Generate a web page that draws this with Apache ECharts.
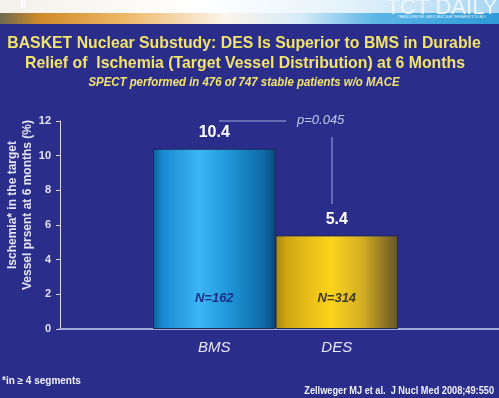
<!DOCTYPE html>
<html lang="en">
<head>
    <meta charset="utf-8">
    <title>BASKET Nuclear Substudy</title>
    <script src="https://cdn.jsdelivr.net/npm/echarts@6/dist/echarts.min.js"></script>
    <style>
        html, body {margin: 0; padding: 0; background: #2b2d8b;}
        #main {width: 499px; height: 398px;}
    </style>
</head>
<body>
<div id="main"></div>
<script type="text/javascript">
    // 数据
    var categories = ['BMS', 'DES'];
    var ischemia = [10.4, 5.4];
    var counts = ['N=162', 'N=314'];
    var yTicks = [0, 2, 4, 6, 8, 10, 12];

    var myChart = echarts.init(document.getElementById('main'));

    var font = '"Liberation Sans", Arial, sans-serif';
    var yellow = '#f1e36c';

    function barGradient(stops) {
        return new echarts.graphic.LinearGradient(0, 0, 1, 0, stops.map(function (s) {
            return {offset: s[0], color: s[1]};
        }));
    }
    var bmsFill = barGradient([[0, '#0b5f96'], [0.08, '#1a8ad0'], [0.38, '#3cb6f4'], [0.62, '#1f96d8'], [0.9, '#0e6aa6'], [1, '#094a7c']]);
    var desFill = barGradient([[0, '#a8860e'], [0.1, '#d4a812'], [0.45, '#fcd41c'], [0.7, '#d6b024'], [0.9, '#8c7224'], [1, '#62552a']]);
    var fills = [bmsFill, desFill];
    var countColors = ['#1d2f86', '#403a30'];

    var option = {
        animation: false,
        backgroundColor: '#2b2d8b',
        textStyle: {fontFamily: font},
        grid: [
            // 整个坐标区（y轴和延长的x轴线）
            {left: 60, right: 0, top: 121, bottom: 69, outerBoundsMode: 'none'},
            // 柱子所在区域
            {left: 153, right: 101, top: 121, bottom: 69, outerBoundsMode: 'none'}
        ],
        xAxis: [
            {
                gridIndex: 0, type: 'value', min: 0, max: 1,
                axisLine: {show: true, onZero: false, lineStyle: {color: '#a4aad8', width: 2}},
                axisTick: {show: false}, axisLabel: {show: false}, splitLine: {show: false}
            },
            {
                gridIndex: 1, type: 'category', data: categories,
                axisLine: {show: false}, axisTick: {show: false},
                axisLabel: {color: '#e8e8f4', fontSize: 15, fontStyle: 'italic', margin: 11}
            }
        ],
        yAxis: [
            {
                gridIndex: 0, type: 'value', min: 0, max: 12, interval: 2,
                name: 'Ischemia* in the target\nVessel prsent at 6 months (%)',
                nameLocation: 'middle', nameRotate: 90, nameGap: 25, nameMoveOverlap: false,
                nameTextStyle: {color: '#e4e4f0', fontSize: 12, fontWeight: 'bold', lineHeight: 15,
                    padding: [0, 0, 0, 40]},
                axisLine: {show: true, lineStyle: {color: '#d8d8e8', width: 1}},
                axisTick: {show: true, length: 4, lineStyle: {color: '#d8d8e8'}},
                axisLabel: {color: '#e4e4f0', fontSize: 11, fontWeight: 'bold', margin: 9,
                    formatter: function (v) { return yTicks.indexOf(v) >= 0 ? v : ''; }},
                splitLine: {show: false}
            },
            {
                gridIndex: 1, type: 'value', min: 0, max: 12, show: false
            }
        ],
        series: [
            {
                type: 'bar', xAxisIndex: 1, yAxisIndex: 1,
                barCategoryGap: '0%', barGap: '-100%',
                data: ischemia.map(function (v, i) {
                    return {value: v, itemStyle: {color: fills[i]}};
                }),
                itemStyle: {borderColor: '#1c2a5a', borderWidth: 1},
                label: {show: true, position: 'top', distance: 8, color: '#ffffff',
                    fontSize: 16, fontWeight: 'bold'}
            },
            {
                type: 'bar', xAxisIndex: 1, yAxisIndex: 1,
                barCategoryGap: '0%', barGap: '-100%',
                data: ischemia.map(function (v, i) {
                    return {value: v, label: {formatter: counts[i], color: countColors[i]}};
                }),
                itemStyle: {color: 'rgba(0,0,0,0)'},
                label: {show: true, position: 'insideBottom', distance: 24,
                    fontSize: 13, fontWeight: 'bold', fontStyle: 'italic'},
                silent: true
            }
        ],
        graphic: [
            // 顶部横幅
            {type: 'rect', shape: {x: 0, y: 0, width: 499, height: 24},
                style: {fill: new echarts.graphic.LinearGradient(0, 0, 1, 0, [
                    {offset: 0, color: '#f4f1ea'}, {offset: 0.4, color: '#ffffff'},
                    {offset: 0.7, color: '#e4f2fb'}, {offset: 1, color: '#a8d6f2'}])}},
            {type: 'rect', shape: {x: 0, y: 13, width: 499, height: 11},
                style: {fill: new echarts.graphic.LinearGradient(0, 0, 1, 0, [
                    {offset: 0, color: '#6c6a50'}, {offset: 0.08, color: '#d08a2a'},
                    {offset: 0.25, color: '#eeb868'}, {offset: 0.45, color: '#fbf4ea'},
                    {offset: 0.6, color: '#d8ecf8'}, {offset: 0.75, color: '#5cb6e6'},
                    {offset: 1, color: '#2e9ad8'}])}},
            {type: 'text', x: 442, y: -3, style: {text: 'TCT DAILY', fill: '#eef6fc',
                font: '22px ' + font, textAlign: 'center'}},
            {type: 'text', x: 442, y: 16, style: {text: 'TRANSCATHETER CARDIOVASCULAR THERAPEUTICS DAILY', fill: '#e8f4fc',
                font: '3px ' + font, textAlign: 'center'}},
            {type: 'text', x: 23, y: 0, style: {text: '9', fill: '#ffffff', font: 'bold 10px ' + font, textAlign: 'center'}},
            // 标题
            {type: 'text', x: 244, y: 43, scaleX: 0.93, style: {text: 'BASKET Nuclear Substudy: DES Is Superior to BMS in Durable',
                fill: yellow, font: 'bold 17px ' + font, textAlign: 'center', textVerticalAlign: 'middle'}},
            {type: 'text', x: 245, y: 63, scaleX: 0.93, style: {text: 'Relief of  Ischemia (Target Vessel Distribution) at 6 Months',
                fill: yellow, font: 'bold 17px ' + font, textAlign: 'center', textVerticalAlign: 'middle'}},
            {type: 'text', x: 244, y: 83, scaleX: 0.95, style: {text: 'SPECT performed in 476 of 747 stable patients w/o MACE',
                fill: yellow, font: 'italic bold 12px ' + font, textAlign: 'center', textVerticalAlign: 'middle'}},
            // p 值标注
            {type: 'line', shape: {x1: 219, y1: 121, x2: 286, y2: 121}, style: {stroke: '#a4aad8', lineWidth: 1}},
            {type: 'line', shape: {x1: 332, y1: 137, x2: 332, y2: 204}, style: {stroke: '#a4aad8', lineWidth: 1}},
            {type: 'text', x: 297, y: 120, style: {text: 'p=0.045', fill: '#c4c8e8',
                font: 'italic 13px ' + font, textVerticalAlign: 'middle'}},
            // 脚注
            {type: 'text', x: 2, y: 381, style: {text: '*in \u2265 4 segments', fill: '#f0f0f8',
                font: 'bold 10px ' + font, textVerticalAlign: 'middle'}},
            {type: 'text', x: 494, y: 391, scaleX: 0.92, style: {text: 'Zellweger MJ et al.  J Nucl Med 2008;49:550', fill: '#f0f0f8',
                font: 'bold 10px ' + font, textAlign: 'right', textVerticalAlign: 'middle'}}
        ]
    };
    myChart.setOption(option);
</script>
</body>
</html>
